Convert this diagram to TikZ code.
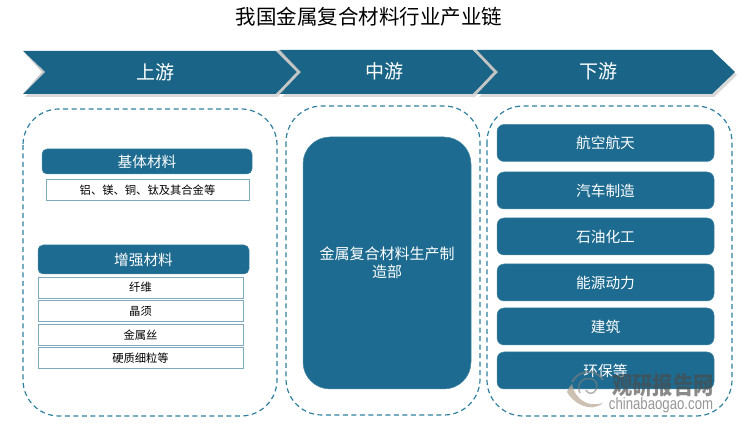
\documentclass[tikz,border=0pt]{standalone}
\usepackage{fontspec}
\setmainfont{Noto Sans CJK SC}
\newfontfamily\markfont{Liberation Sans}
\usetikzlibrary{shadows}
\definecolor{chainblue}{HTML}{1A6587}
\definecolor{boxblue}{HTML}{1D6B90}
\definecolor{dashblue}{HTML}{2F7F9F}
\definecolor{edgeblue}{HTML}{7FA9BD}
\definecolor{bandgray}{HTML}{C4C6C6}
\tikzset{
  stagearrow/.style={fill=chainblue,drop shadow={opacity=0.3,shadow xshift=2pt,shadow yshift=-3pt}},
  stagetext/.style={text=white,font=\fontsize{19}{22}\selectfont},
  groupbox/.style={draw=dashblue,line width=1.2pt,dash pattern=on 5pt off 3.5pt,rounded corners=36pt},
  headbox/.style={fill=boxblue,draw=boxblue!80!white,line width=0.5pt,rounded corners=5pt,text=white,font=\fontsize{14.7}{18}\selectfont,inner sep=0pt},
  itembox/.style={draw=edgeblue,line width=1pt,fill=white,minimum width=205pt,minimum height=21pt,inner sep=0pt,font=\fontsize{11.3}{13}\selectfont},
  downbox/.style={headbox,minimum width=217pt,minimum height=37pt,rounded corners=7pt},
  logomark/.style={fill=gray!60!brown!70,opacity=0.7}
}
\begin{document}
\begin{tikzpicture}[x=1pt,y=-1pt]
\useasboundingbox (0,0) rectangle (750,427);

\node[font=\fontsize{20.5}{24}\selectfont] (title) at (369,17) {我国金属复合材料行业产业链};

% chevrons
\fill[stagearrow] (23,51) -- (276,51) -- (297,72) -- (276,94) -- (23,94) -- (45,72) -- cycle;
\fill[bandgray] (276,51) -- (280,50) -- (301,72) -- (280,94) -- (276,94) -- (297,72) -- cycle;
\fill[stagearrow] (280,50) -- (473,50) -- (494,72) -- (473,94) -- (280,94) -- (301,72) -- cycle;
\fill[bandgray] (473,50) -- (477,50) -- (498,72) -- (477,94) -- (473,94) -- (494,72) -- cycle;
\fill[stagearrow] (477,50) -- (712,50) -- (735,72) -- (712,94) -- (477,94) -- (498,72) -- cycle;
\fill[bandgray] (23,51) -- (45,72) -- (23,94) -- (42,72) -- cycle;
\node[stagetext] (up) at (155,72) {上游};
\node[stagetext] (mid) at (384,71) {中游};
\node[stagetext] (down) at (598,71) {下游};

% dashed groups
\draw[groupbox] (23,109) rectangle (277,416);
\draw[groupbox] (286,106) rectangle (480,415);
\draw[groupbox] (487,106) rectangle (732,416);

% left column
\node[headbox,minimum width=210pt,minimum height=25pt] (base) at (147,161.5) {基体材料};
\node[itembox,minimum width=203pt] (basea) at (147.5,190) {铝、镁、铜、钛及其合金等};
\node[headbox,minimum width=211pt,minimum height=29pt] (rein) at (143.5,259.5) {增强材料};
\node[itembox] (reina) at (140.5,287.7) {纤维};
\node[itembox] (reinb) at (140.5,311.3) {晶须};
\node[itembox] (reinc) at (140.5,334.8) {金属丝};
\node[itembox] (reind) at (140.5,358.3) {硬质细粒等};

% middle column
\node[headbox,minimum width=168pt,minimum height=252pt,rounded corners=27pt,align=center,font=\fontsize{15}{18}\selectfont] (make) at (387,263) {金属复合材料生产制\\造部};

% right column
\node[downbox] (aero) at (605.5,143) {航空航天};
\node[downbox] (auto) at (605.5,190.5) {汽车制造};
\node[downbox] (oil) at (605.5,236.5) {石油化工};
\node[downbox] (power) at (605.5,282.5) {能源动力};
\node[downbox] (build) at (605.5,326.5) {建筑};
\node[downbox] (envi) at (605.5,370.5) {环保等};

% watermark
\fill[logomark] (567,392) .. controls (572,402) and (590,414) .. (603,403) .. controls (590,407) and (576,402) .. (572,384) .. controls (570,386) and (568,389) .. (567,392) -- cycle;
\draw[gray,opacity=0.6,line width=2pt] (572,382) .. controls (578,370) and (596,368) .. (603,380);
\draw[gray,opacity=0.6,line width=1.5pt] (580,393) .. controls (574,380) and (590,374) .. (596,382) .. controls (600,390) and (590,398) .. (586,390);
\node[text=black!70,opacity=0.65,font=\fontsize{20.3}{24}\selectfont\bfseries,transform shape,yscale=1.2] (markcn) at (663,385) {观研报告网};
\node[text=black!55,opacity=0.75,font=\fontsize{13.2}{16}\markfont,transform shape,yscale=1.25] (markurl) at (661,405) {chinabaogao.com};
\end{tikzpicture}
\end{document}
